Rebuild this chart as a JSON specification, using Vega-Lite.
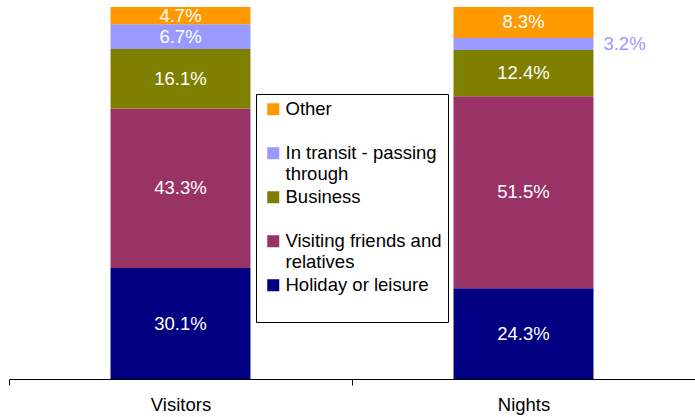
{
  "$schema": "https://vega.github.io/schema/vega-lite/v6.json",
  "width": 686,
  "height": 372,
  "padding": {"left": 9, "top": 7, "right": 0, "bottom": 38},
  "autosize": {"type": "none"},
  "background": "white",
  "config": {
    "view": {"stroke": null},
    "font": "Liberation Sans",
    "legend": {
      "orient": "none",
      "legendX": 247,
      "legendY": 87,
      "strokeColor": "black",
      "fillColor": "white",
      "padding": 6,
      "labelFont": "Liberation Sans",
      "labelFontSize": 18.5,
      "labelLineHeight": 20,
      "labelColor": "black",
      "labelLimit": 220,
      "symbolType": "square",
      "symbolSize": 144,
      "symbolStrokeWidth": 0,
      "symbolOffset": 2,
      "rowPadding": 4,
      "labelOffset": 3
    }
  },
  "data": {
    "values": [
      {"measure": "Visitors", "category": "Holiday or leisure", "value": 30.1},
      {"measure": "Visitors", "category": "Visiting friends and relatives", "value": 43.3},
      {"measure": "Visitors", "category": "Business", "value": 16.1},
      {"measure": "Visitors", "category": "In transit - passing through", "value": 6.7},
      {"measure": "Visitors", "category": "Other", "value": 4.7},
      {"measure": "Nights", "category": "Holiday or leisure", "value": 24.3},
      {"measure": "Nights", "category": "Visiting friends and relatives", "value": 51.5},
      {"measure": "Nights", "category": "Business", "value": 12.4},
      {"measure": "Nights", "category": "In transit - passing through", "value": 3.2},
      {"measure": "Nights", "category": "Other", "value": 8.3}
    ]
  },
  "transform": [
    {"calculate": "indexof(['Holiday or leisure','Visiting friends and relatives','Business','In transit - passing through','Other'], datum.category)", "as": "k"},
    {"stack": "value", "groupby": ["measure"], "sort": [{"field": "k", "order": "ascending"}], "offset": "normalize", "as": ["v0", "v1"]},
    {"calculate": "(datum.v0 + datum.v1) / 2", "as": "vm"},
    {"calculate": "format(datum.value, '.1f') + '%'", "as": "label"}
  ],
  "encoding": {
    "x": {
      "field": "measure",
      "type": "nominal",
      "sort": ["Visitors", "Nights"],
      "scale": {"paddingInner": 0, "paddingOuter": 0},
      "axis": {
        "title": null,
        "labelAngle": 0,
        "labelFont": "Liberation Sans",
        "labelFontSize": 18.5,
        "labelColor": "black",
        "labelPadding": 10,
        "domainColor": "black",
        "tickColor": "black",
        "tickSize": 6,
        "tickBand": "extent",
        "grid": false
      }
    }
  },
  "layer": [
    {
      "mark": {"type": "bar", "width": {"band": 0.408}},
      "encoding": {
        "y": {"field": "v0", "type": "quantitative", "scale": {"domain": [0, 1], "nice": false}, "axis": null},
        "y2": {"field": "v1"},
        "color": {
          "field": "category",
          "type": "nominal",
          "scale": {
            "domain": ["Other", "In transit - passing through", "Business", "Visiting friends and relatives", "Holiday or leisure"],
            "range": ["#FF9900", "#9999FF", "#808000", "#993366", "#000080"]
          },
          "legend": {
            "title": null,
            "labelExpr": "datum.label == 'In transit - passing through' ? ['In transit - passing', 'through'] : datum.label == 'Visiting friends and relatives' ? ['Visiting friends and', 'relatives'] : [datum.label, ' ']"
          }
        }
      }
    },
    {
      "transform": [{"filter": "datum.value >= 4"}],
      "mark": {"type": "text", "color": "white", "font": "Liberation Sans", "fontSize": 18.5, "baseline": "middle"},
      "encoding": {
        "y": {"field": "vm", "type": "quantitative", "scale": {"domain": [0, 1], "nice": false}},
        "text": {"field": "label"}
      }
    },
    {
      "transform": [{"filter": "datum.value < 4"}],
      "mark": {"type": "text", "color": "#9999FF", "font": "Liberation Sans", "fontSize": 18.5, "baseline": "middle", "dx": 101},
      "encoding": {
        "y": {"field": "vm", "type": "quantitative", "scale": {"domain": [0, 1], "nice": false}},
        "text": {"field": "label"}
      }
    }
  ]
}
